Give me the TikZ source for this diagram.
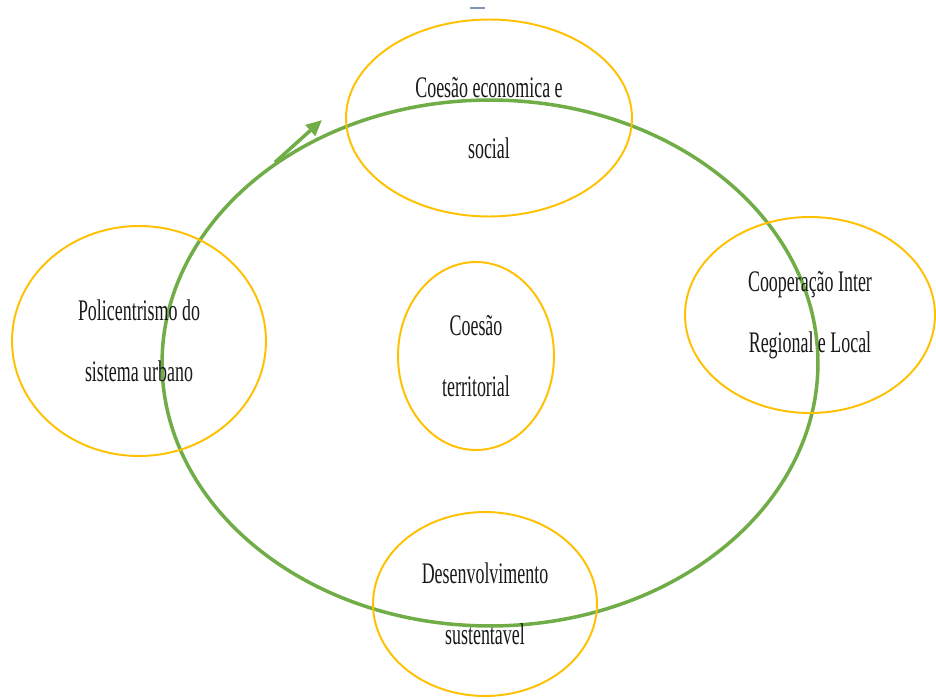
\documentclass[tikz,border=0pt]{standalone}
\usepackage{fontspec}
\setmainfont{Liberation Serif}
\newfontfamily\narrowfont[FakeStretch=0.6]{Liberation Serif}
\usetikzlibrary{arrows.meta,shapes.geometric}
\definecolor{ciclo}{RGB}{112,173,71}
\definecolor{ouro}{RGB}{255,192,0}
\definecolor{traco}{RGB}{130,150,180}
\tikzset{
  bolha/.style={draw=ouro, line width=1.1pt, ellipse, inner sep=0pt, align=center,
    text=black!90, font=\narrowfont\fontsize{17}{35}\selectfont},
}

\begin{document}
\begin{tikzpicture}[x=0.02cm,y=-0.02cm]
\useasboundingbox (0,0) rectangle (936,699);

% Ciclo
\node[draw=ciclo, line width=2pt, ellipse, inner sep=0pt,
  minimum width=13.12cm, minimum height=10.52cm] (ciclo) at (490,363) {};
\coordinate (ponta) at (322,120);
\draw[ciclo, line width=2pt, -{Triangle[length=9pt,width=8pt]}] (ciclo.137) -- (ponta);

% Dimensoes
\node[bolha, minimum width=5.72cm, minimum height=3.94cm] (economica) at (489,118) {Coesão economica e\\social};
\node[bolha, minimum width=5.08cm, minimum height=4.6cm] (policentrismo) at (139,341) {Policentrismo do\\sistema urbano};
\node[bolha, minimum width=5.0cm, minimum height=3.92cm] (cooperacao) at (810,315) {Cooperação Inter\\Regional e Local};
\node[bolha, minimum width=4.48cm, minimum height=3.68cm] (desenvolvimento) at (485,604) {Desenvolvimento\\sustentavel};

% Centro
\node[bolha, minimum width=3.12cm, minimum height=3.76cm] (territorial) at (476,356) {Coesão\\territorial};

% Traco
\draw[traco, line width=1pt] (470,8) -- (485,8);

\end{tikzpicture}
\end{document}
